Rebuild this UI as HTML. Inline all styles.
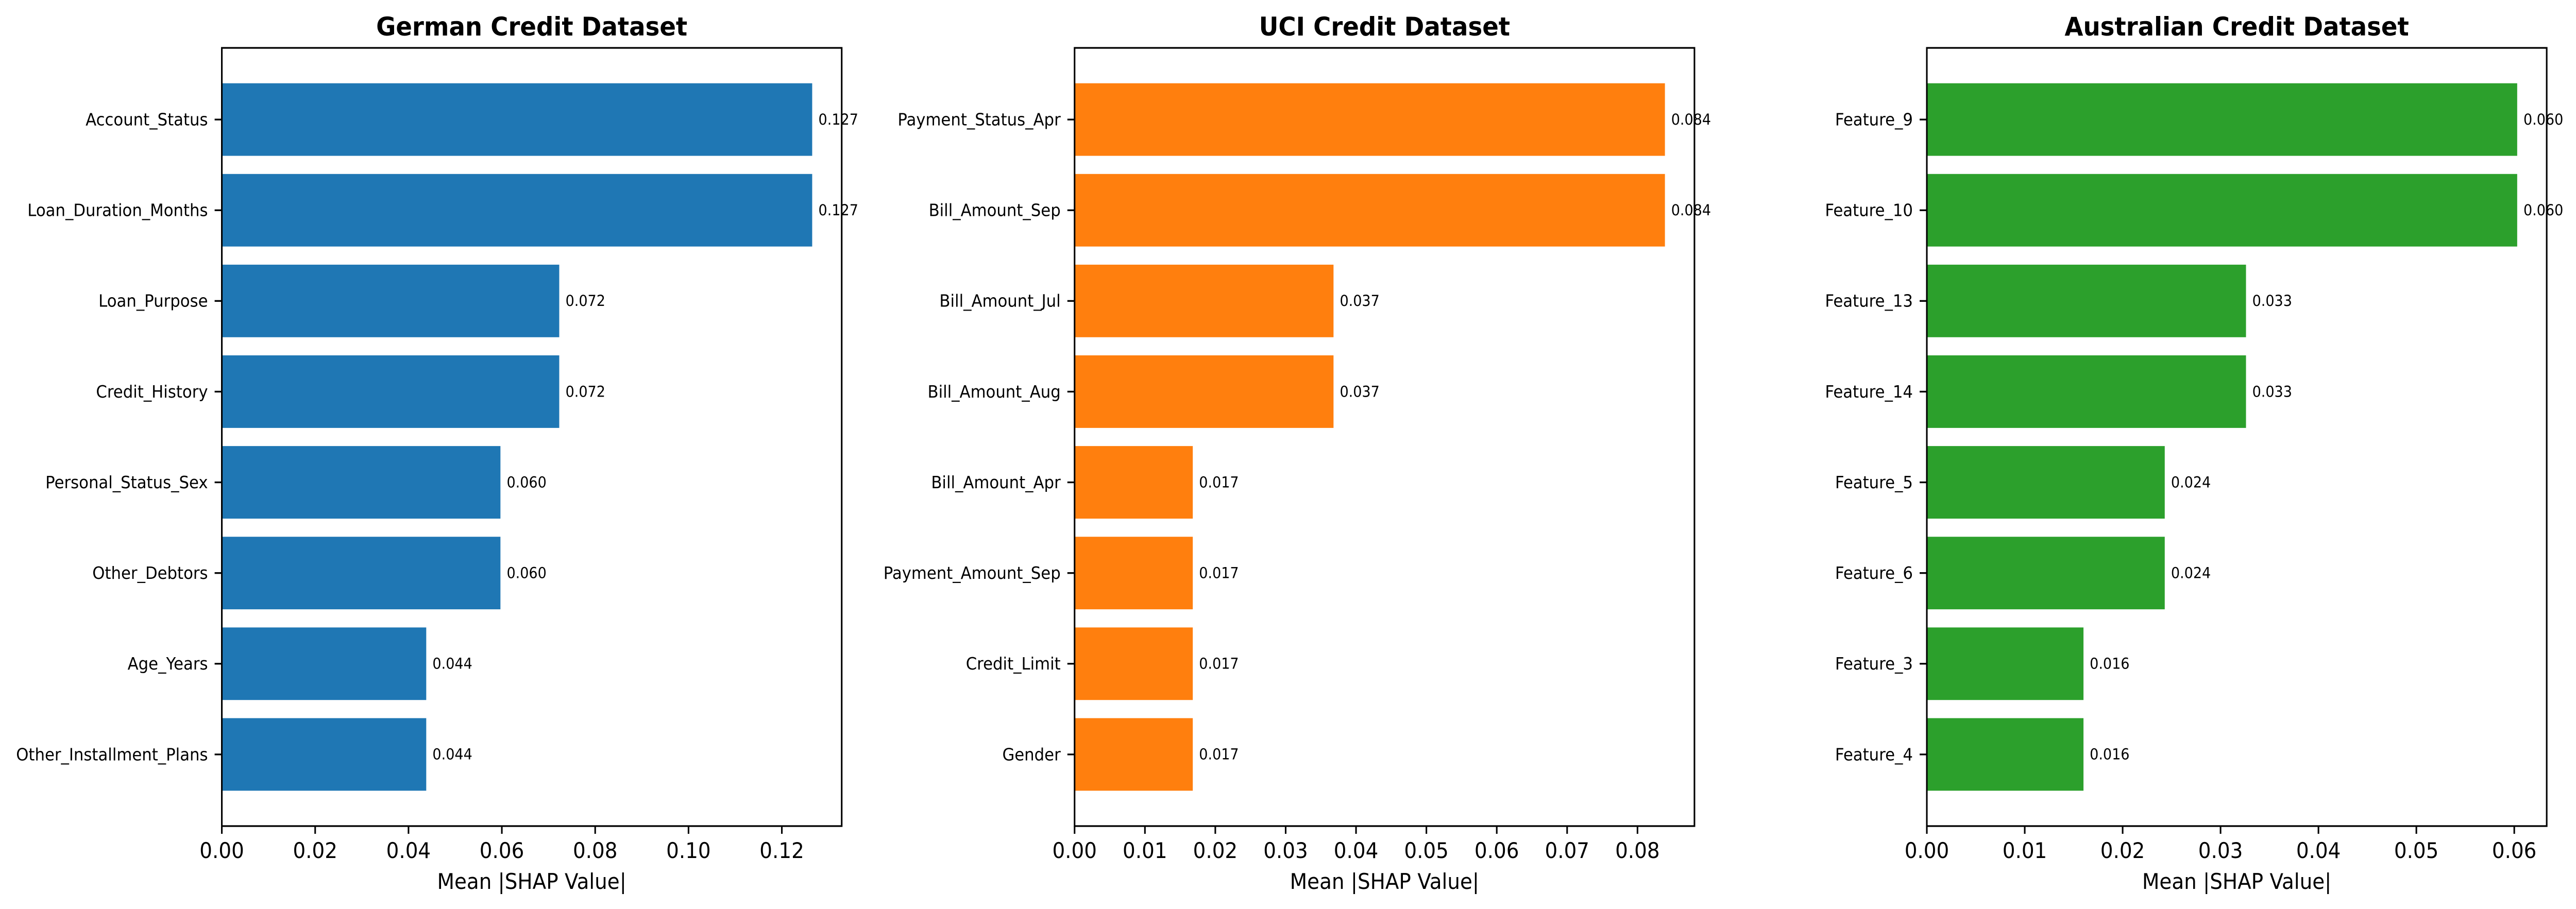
<!DOCTYPE html>
<html><head><meta charset="utf-8">
<style>
html,body{margin:0;padding:0;background:#fff;overflow:hidden;width:100vw;height:100vh;}
svg{display:block;position:absolute;left:0;top:0;width:100vw;height:100vh;font-family:"DejaVu Sans","Liberation Sans",sans-serif;}
</style></head>
<body>
<svg id="chart" viewBox="0 0 5365 1765" preserveAspectRatio="none" xmlns="http://www.w3.org/2000/svg"></svg>
<script>
const germanFeatures = ["Account_Status","Loan_Duration_Months","Loan_Purpose","Credit_History","Personal_Status_Sex","Other_Debtors","Age_Years","Other_Installment_Plans"];
const germanValues = [0.1265,0.1265,0.0723,0.0723,0.0597,0.0597,0.0438,0.0438];
const germanLabels = ["0.127","0.127","0.072","0.072","0.060","0.060","0.044","0.044"];
const germanTicks = ["0.00","0.02","0.04","0.06","0.08","0.10","0.12"];
const germanTickStep = 0.02;

const uciFeatures = ["Payment_Status_Apr","Bill_Amount_Sep","Bill_Amount_Jul","Bill_Amount_Aug","Bill_Amount_Apr","Payment_Amount_Sep","Credit_Limit","Gender"];
const uciValues = [0.0839,0.0839,0.0368,0.0368,0.0168,0.0168,0.0168,0.0168];
const uciLabels = ["0.084","0.084","0.037","0.037","0.017","0.017","0.017","0.017"];
const uciTicks = ["0.00","0.01","0.02","0.03","0.04","0.05","0.06","0.07","0.08"];
const uciTickStep = 0.01;

const ausFeatures = ["Feature_9","Feature_10","Feature_13","Feature_14","Feature_5","Feature_6","Feature_3","Feature_4"];
const ausValues = [0.0603,0.0603,0.0326,0.0326,0.0243,0.0243,0.0160,0.0160];
const ausLabels = ["0.060","0.060","0.033","0.033","0.024","0.024","0.016","0.016"];
const ausTicks = ["0.00","0.01","0.02","0.03","0.04","0.05","0.06"];
const ausTickStep = 0.01;

const NS = "http://www.w3.org/2000/svg";
const svg = document.getElementById("chart");
function mk(tag, attrs, parent){
  const e = document.createElementNS(NS, tag);
  for (const k in attrs) e.setAttribute(k, attrs[k]);
  (parent||svg).appendChild(e);
  return e;
}
const TOP = 93, BOT = 1604, W = 1291;

function panel(key, left, title, feats, vals, labels, ticks, step, color){
  const g = mk("g", {});
  
  
  const maxV = Math.max(...vals);
  const xmax = maxV * 1.05;
  const x = v => left + v / xmax * W;
  const n = feats.length;
  const lo = -0.4 - 0.05*(n-1+0.8), hi = n-1+0.4 + 0.05*(n-1+0.8);
  const y = i => TOP + (i - lo) / (hi - lo) * (BOT - TOP);
  const unit = (BOT - TOP) / (hi - lo);
  feats.forEach((f,i)=>{
    const r = mk("rect", {x: x(0), y: y(i)-0.4*unit, width: x(vals[i])-x(0), height: 0.8*unit, fill: color}, g);
    
    
    const t = mk("text", {x: x(vals[i]) + 13, y: y(i), "font-size": 29, "dominant-baseline": "central", fill: "#000"}, g);
    t.textContent = labels[i];
    
    
    const tk = mk("line", {x1: left-15, x2: left, y1: y(i), y2: y(i), stroke: "#000", "stroke-width": 3.3}, g);
    
    
    const yl = mk("text", {x: left-29, y: y(i), "font-size": 33, "text-anchor": "end", "dominant-baseline": "central"}, g);
    yl.textContent = f;
    
    
  });
  ticks.forEach((lab,j)=>{
    const v = j*step;
    const tk = mk("line", {x1: x(v), x2: x(v), y1: BOT, y2: BOT+15, stroke: "#000", "stroke-width": 3.3}, g);
    
    
    const tl = mk("text", {x: x(v), y: 1666, "font-size": 41.7, "text-anchor": "middle"}, g);
    tl.textContent = lab;
    
    
  });
  const frame = mk("rect", {x: left, y: TOP, width: W, height: BOT-TOP, fill: "none", stroke: "#000", "stroke-width": 3.3}, g);
  
  
  const tt = mk("text", {x: left + W/2, y: 69, "font-size": 50, "font-weight": "bold", "text-anchor": "middle"}, g);
  tt.textContent = title;
  
  
  const xl = mk("text", {x: left + W/2, y: 1726, "font-size": 41.7, "text-anchor": "middle"}, g);
  xl.textContent = "Mean |SHAP Value|";
  
  
}
panel("german", 462, "German Credit Dataset", germanFeatures, germanValues, germanLabels, germanTicks, germanTickStep, "#1f77b4");
panel("uci", 2238, "UCI Credit Dataset", uciFeatures, uciValues, uciLabels, uciTicks, uciTickStep, "#ff7f0e");
panel("australian", 4013, "Australian Credit Dataset", ausFeatures, ausValues, ausLabels, ausTicks, ausTickStep, "#2ca02c");
</script>
</body></html>
